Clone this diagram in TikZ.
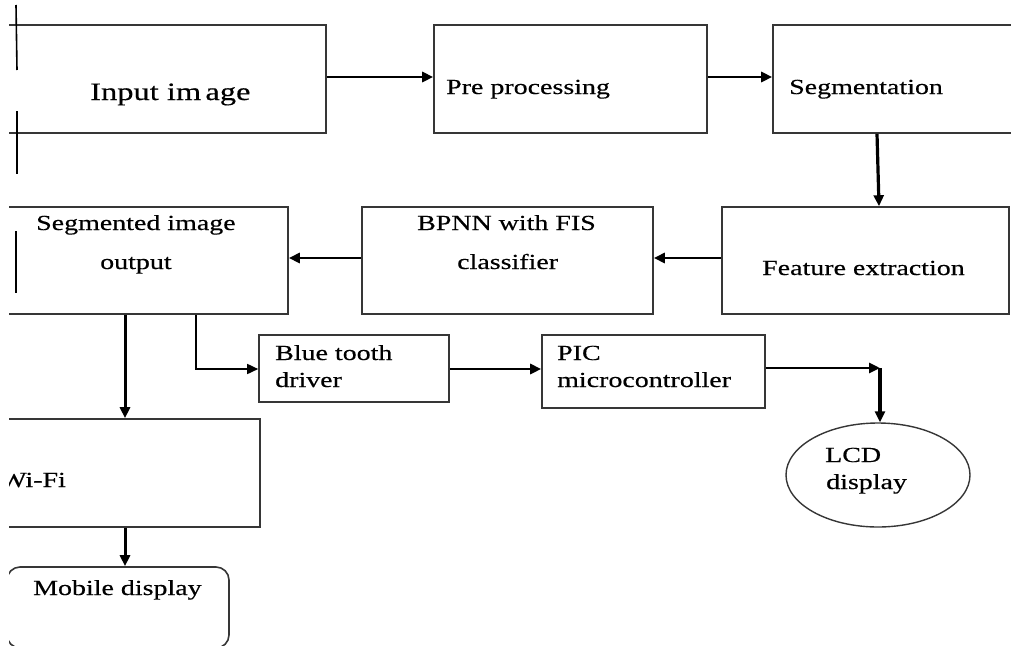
\documentclass[tikz,border=0pt]{standalone}
\usepackage{fontspec}
\setmainfont{Liberation Serif}[FakeStretch=1.3,FakeBold=0.4]
\usetikzlibrary{shapes.geometric,arrows.meta,calc}
\definecolor{boxgray}{HTML}{363636}
\begin{document}
\begin{tikzpicture}[x=1pt,y=-1pt,
  box/.style={draw=boxgray,line width=1.6pt,inner sep=0pt,rectangle},
  txt/.style={anchor=base west,inner sep=0pt,font=\fontsize{21.5}{26}\selectfont,text=black},
  bigtxt/.style={txt,font=\fontsize{25}{30}\selectfont},
  arr/.style={line width=2.7pt,-{Triangle[length=11pt,width=10pt]}},
  thinarr/.style={line width=1.6pt,-{Triangle[length=11pt,width=10pt]}},
  stub/.style={line width=1.6pt,black}]
\useasboundingbox (0,0) rectangle (1011,645);
\begin{scope}
\clip (9,0) rectangle (1011,645);
% boxes
\node[box,minimum width=326pt,minimum height=108pt] (inp) at (163,79) {};
\node[box,minimum width=273pt,minimum height=108pt] (pre) at (570.5,79) {};
\node[box,minimum width=247pt,minimum height=108pt] (seg) at (896.5,79) {};
\node[box,minimum width=287pt,minimum height=107pt] (feat) at (865.5,260.5) {};
\node[box,minimum width=291pt,minimum height=107pt] (bpnn) at (507.5,260.5) {};
\node[box,minimum width=288pt,minimum height=107pt] (sout) at (144,260.5) {};
\node[box,minimum width=190pt,minimum height=67pt] (bt) at (354,368.5) {};
\node[box,minimum width=223pt,minimum height=73pt] (pic) at (653.5,371.5) {};
\node[box,minimum width=260pt,minimum height=108pt] (wifi) at (130,473) {};
\node[box,rounded corners=13pt,minimum width=222pt,minimum height=81pt] (mob) at (118,607.5) {};
\node[draw=boxgray,line width=1.4pt,ellipse,inner sep=0pt,minimum width=184pt,minimum height=104pt] (lcd) at (878,475) {};
% texts
\node[bigtxt] (tinp) at (90,100) {Input im\,age};
\node[txt] (tpre) at (446,94) {Pre processing};
\node[txt] (tseg) at (789,94) {Segmentation};
\node[txt] (tsout1) at (36,230) {Segmented image};
\node[txt] (tsout2) at (100,269) {output};
\node[txt] (tbpnn1) at (417,230) {BPNN with FIS};
\node[txt] (tbpnn2) at (457,269) {classifier};
\node[txt] (tfeat) at (762,275) {Feature extraction};
\node[txt] (tbt1) at (275,360) {Blue tooth};
\node[txt] (tbt2) at (275,387) {driver};
\node[txt] (tpic1) at (557,360) {PIC};
\node[txt] (tpic2) at (557,387) {microcontroller};
\node[txt] (tlcd1) at (825,462) {LCD};
\node[txt] (tlcd2) at (826,489) {display};
\node[txt] (twifi) at (0,487) {Wi-Fi};
\node[txt] (tmob) at (33,595) {Mobile display};
% connectors
\draw[arr] ([yshift=2pt]inp.east) -- ([yshift=2pt]pre.west);
\draw[arr] ([yshift=2pt]pre.east) -- ([yshift=2pt]seg.west);
\draw[arr,line width=3.2pt] ([xshift=-19.5pt]seg.south) -- ([xshift=13.5pt]feat.north);
\draw[arr] ([yshift=2.5pt]feat.west) -- ([yshift=2.5pt]bpnn.east);
\draw[arr] ([yshift=2.5pt]bpnn.west) -- ([yshift=2.5pt]sout.east);
\draw[arr,line width=3pt] ([xshift=-19pt]sout.south) -- ([xshift=-19pt]sout.south |- wifi.north);
\draw[arr,line width=3pt] ([xshift=-5pt]wifi.south) -- ([xshift=-5pt]wifi.south |- mob.north);
\draw[thinarr] ([xshift=52pt]sout.south) |- ([yshift=-0.5pt]bt.west);
\draw[arr] ([yshift=-0.5pt]bt.east) -- ([yshift=-0.5pt]bt.east -| pic.west);
\coordinate (corner) at (880,368);
\draw[arr] ([yshift=3.5pt]pic.east) -- (corner);
\draw[arr,line width=3.2pt] (corner) -- (corner |- lcd.north);
% stubs at the left
\draw[stub] (16,5) -- (17,70);
\draw[stub] (17,111) -- (17,174);
\draw[stub] (16,231) -- (16,293);
\end{scope}
\end{tikzpicture}
\end{document}
